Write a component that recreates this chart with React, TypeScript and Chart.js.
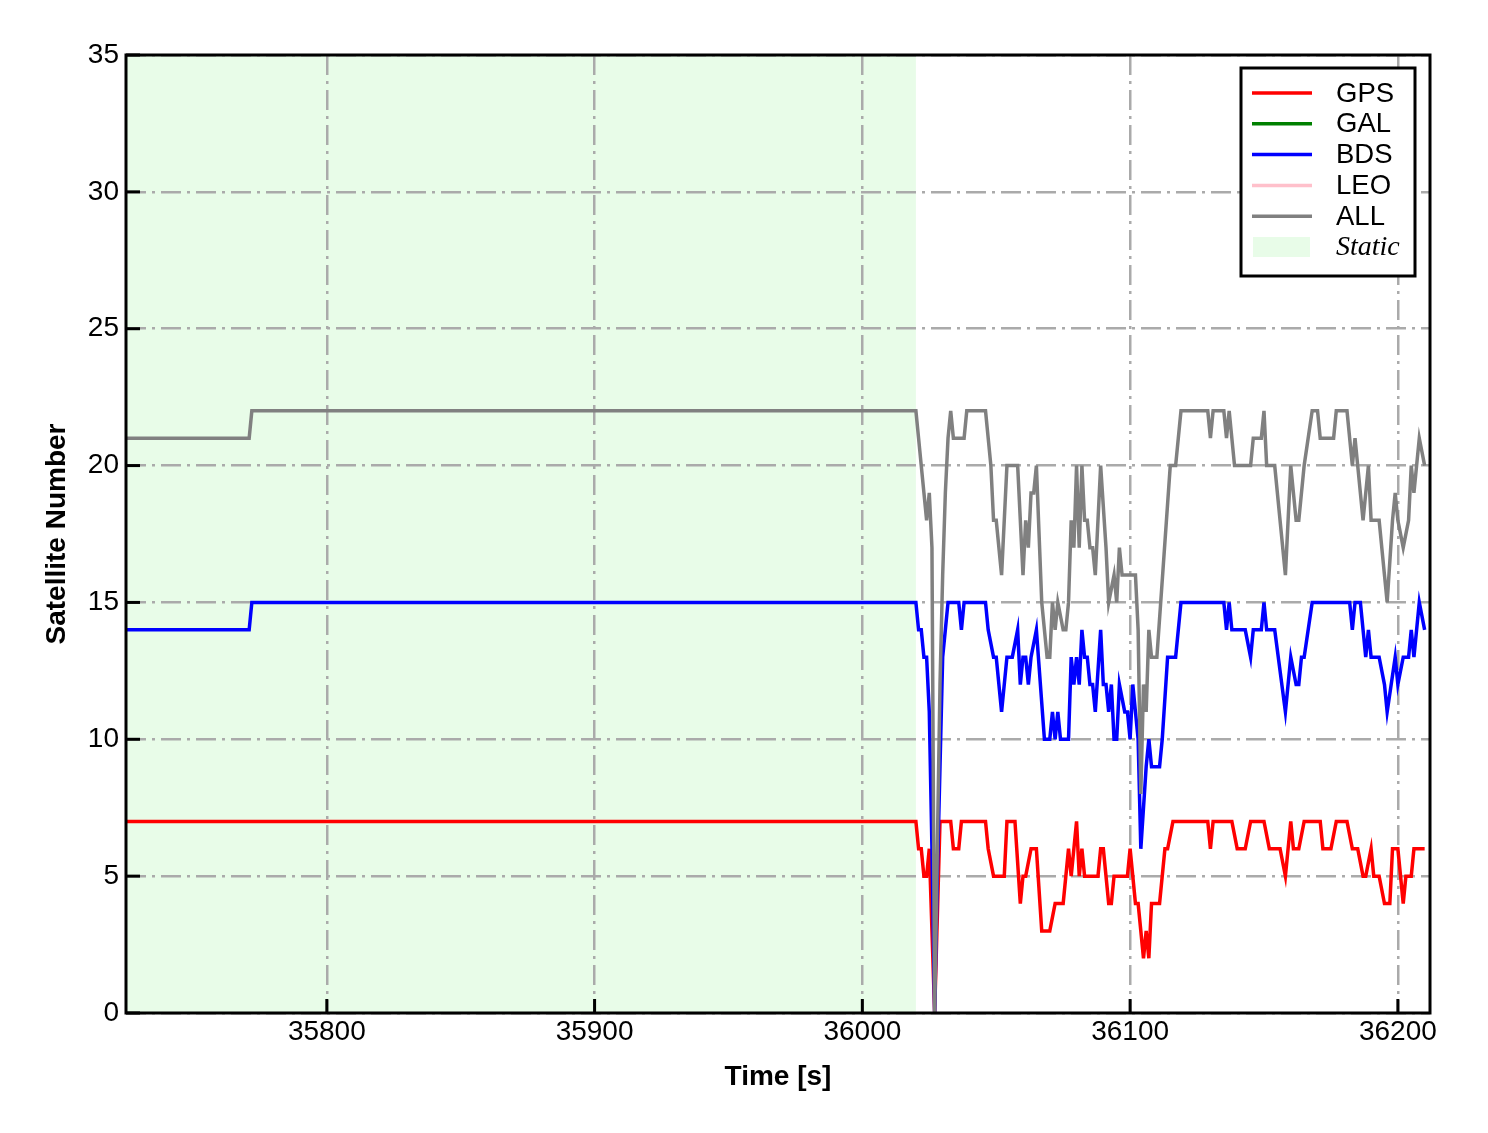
import React, { useEffect, useRef } from "react";
import { Chart, registerables } from "chart.js";

Chart.register(...registerables);

// ---------------- data ----------------
const X_MIN = 35725;
const X_MAX = 36212;
const Y_MIN = 0;
const Y_MAX = 35;
const STATIC_START = 35725;
const STATIC_END = 36020;

const gpsTimes = [35725, 36020, 36021, 36022, 36023, 36024, 36025, 36027, 36029, 36033, 36034, 36036, 36037, 36046, 36047, 36049, 36053, 36054, 36057, 36059, 36060, 36061, 36063, 36065, 36067, 36070, 36072, 36075, 36077, 36078, 36080, 36081, 36082, 36083, 36088, 36089, 36090, 36092, 36093, 36094, 36099, 36100, 36102, 36103, 36105, 36106, 36107, 36108, 36111, 36113, 36114, 36116, 36129, 36130, 36131, 36138, 36140, 36143, 36145, 36150, 36152, 36156, 36158, 36160, 36161, 36163, 36165, 36171, 36172, 36175, 36177, 36181, 36183, 36185, 36187, 36188, 36190, 36191, 36193, 36195, 36197, 36198, 36200, 36202, 36203, 36205, 36206, 36210];
const gpsValues = [7, 7, 6, 6, 5, 5, 6, 0, 7, 7, 6, 6, 7, 7, 6, 5, 5, 7, 7, 4, 5, 5, 6, 6, 3, 3, 4, 4, 6, 5, 7, 5, 6, 5, 5, 6, 6, 4, 4, 5, 5, 6, 4, 4, 2, 3, 2, 4, 4, 6, 6, 7, 7, 6, 7, 7, 6, 6, 7, 7, 6, 6, 5, 7, 6, 6, 7, 7, 6, 6, 7, 7, 6, 6, 5, 5, 6, 5, 5, 4, 4, 6, 6, 4, 5, 5, 6, 6];

const galTimes: number[] = [];
const galValues: number[] = [];

const bdsTimes = [35725, 35771, 35772, 36020, 36021, 36022, 36023, 36024, 36025, 36026, 36027, 36028, 36029, 36030, 36031, 36032, 36036, 36037, 36038, 36046, 36047, 36049, 36050, 36052, 36054, 36056, 36058, 36059, 36060, 36061, 36062, 36063, 36065, 36068, 36070, 36071, 36072, 36073, 36074, 36077, 36078, 36079, 36080, 36081, 36082, 36083, 36084, 36085, 36086, 36087, 36089, 36090, 36091, 36092, 36093, 36094, 36095, 36096, 36098, 36099, 36100, 36101, 36102, 36103, 36104, 36106, 36107, 36108, 36111, 36112, 36114, 36117, 36119, 36135, 36136, 36137, 36138, 36143, 36145, 36146, 36149, 36150, 36151, 36154, 36158, 36160, 36162, 36163, 36164, 36165, 36168, 36182, 36183, 36184, 36186, 36188, 36189, 36190, 36193, 36195, 36196, 36199, 36200, 36202, 36204, 36205, 36206, 36208, 36210];
const bdsValues = [14, 14, 15, 15, 14, 14, 13, 13, 11, 6, 0, 5, 9, 13, 14, 15, 15, 14, 15, 15, 14, 13, 13, 11, 13, 13, 14, 12, 13, 13, 12, 13, 14, 10, 10, 11, 10, 11, 10, 10, 13, 12, 13, 12, 14, 13, 13, 12, 12, 11, 14, 12, 12, 11, 12, 10, 10, 12, 11, 11, 10, 12, 11, 10, 6, 9, 10, 9, 9, 10, 13, 13, 15, 15, 14, 15, 14, 14, 13, 14, 14, 15, 14, 14, 11, 13, 12, 12, 13, 13, 15, 15, 14, 15, 15, 13, 14, 13, 13, 12, 11, 13, 12, 13, 13, 14, 13, 15, 14];

const leoTimes: number[] = [];
const leoValues: number[] = [];

const allTimes = [35725, 35771, 35772, 36020, 36021, 36022, 36023, 36024, 36025, 36026, 36027, 36028, 36029, 36030, 36031, 36032, 36033, 36034, 36038, 36039, 36046, 36047, 36048, 36049, 36050, 36052, 36054, 36058, 36060, 36061, 36062, 36063, 36064, 36065, 36067, 36069, 36070, 36071, 36072, 36073, 36075, 36076, 36077, 36078, 36079, 36080, 36081, 36082, 36083, 36084, 36085, 36086, 36087, 36089, 36091, 36092, 36094, 36095, 36096, 36097, 36102, 36103, 36104, 36105, 36106, 36107, 36108, 36110, 36115, 36117, 36119, 36129, 36130, 36131, 36135, 36136, 36137, 36139, 36145, 36146, 36149, 36150, 36151, 36154, 36158, 36160, 36162, 36163, 36165, 36168, 36170, 36171, 36176, 36177, 36181, 36183, 36184, 36185, 36187, 36189, 36190, 36193, 36195, 36196, 36198, 36199, 36200, 36202, 36204, 36205, 36206, 36208, 36210];
const allValues = [21, 21, 22, 22, 21, 20, 19, 18, 19, 17, 0, 6, 12, 16, 19, 21, 22, 21, 21, 22, 22, 21, 20, 18, 18, 16, 20, 20, 16, 18, 17, 19, 19, 20, 15, 13, 13, 15, 14, 15, 14, 14, 15, 18, 17, 20, 17, 20, 18, 18, 17, 17, 16, 20, 17, 15, 16, 15, 17, 16, 16, 14, 8, 12, 11, 14, 13, 13, 20, 20, 22, 22, 21, 22, 22, 21, 22, 20, 20, 21, 21, 22, 20, 20, 16, 20, 18, 18, 20, 22, 22, 21, 21, 22, 22, 20, 21, 20, 18, 20, 18, 18, 16, 15, 18, 19, 18, 17, 18, 20, 19, 21, 20];

const xTickStep = 100;
const yTickStep = 5;

const seriesLabels = ["GPS", "GAL", "BDS", "LEO", "ALL"];
const seriesColors = ["#ff0000", "#008000", "#0000ff", "#ffc0cb", "#808080"];
const staticLabel = "Static";
const staticColor = "rgb(232, 252, 232)";

const toPoints = (t: number[], v: number[]) => t.map((x, i) => ({ x, y: v[i] }));

const FONT_SANS = "'Liberation Sans', Arial, Helvetica, sans-serif";
const FONT_SERIF = "'Liberation Serif', 'Times New Roman', serif";

const staticPlugin = {
  id: "staticShade",
  beforeDraw(chart: any) {
    const { ctx, chartArea, scales } = chart;
    const x0 = Math.max(scales.x.getPixelForValue(STATIC_START), chartArea.left);
    const x1 = Math.min(scales.x.getPixelForValue(STATIC_END), chartArea.right);
    ctx.save();
    ctx.fillStyle = staticColor;
    ctx.fillRect(x0, chartArea.top, x1 - x0, chartArea.bottom - chartArea.top);
    ctx.restore();
  },
};

const framePlugin = {
  id: "frameAndLegend",
  afterDraw(chart: any) {
    const { ctx, chartArea, scales } = chart;
    const { left, right, top, bottom } = chartArea;
    ctx.save();
    // inward ticks
    ctx.strokeStyle = "#000";
    ctx.lineWidth = 3;
    const tl = 14;
    scales.y.ticks.forEach((t: any) => {
      const y = scales.y.getPixelForValue(t.value);
      ctx.beginPath();
      ctx.moveTo(left, y);
      ctx.lineTo(left + tl, y);
      ctx.stroke();
    });
    scales.x.ticks.forEach((t: any) => {
      const x = scales.x.getPixelForValue(t.value);
      ctx.beginPath();
      ctx.moveTo(x, bottom);
      ctx.lineTo(x, bottom - tl);
      ctx.stroke();
    });
    // frame
    ctx.lineWidth = 3;
    ctx.strokeRect(left, top, right - left, bottom - top);

    // legend
    const bx = right - 189;
    const by = top + 13;
    const bw = 174;
    const bh = 208;
    ctx.fillStyle = "#fff";
    ctx.fillRect(bx, by, bw, bh);
    ctx.lineWidth = 3;
    ctx.strokeStyle = "#000";
    ctx.strokeRect(bx, by, bw, bh);
    const rowH = 30.8;
    const y0 = by + 25;
    ctx.textBaseline = "middle";
    ctx.textAlign = "left";
    chart.data.datasets.forEach((ds: any, i: number) => {
      const y = y0 + i * rowH;
      ctx.strokeStyle = ds.borderColor;
      ctx.lineWidth = 3.5;
      ctx.beginPath();
      ctx.moveTo(bx + 11, y);
      ctx.lineTo(bx + 71, y);
      ctx.stroke();
      ctx.fillStyle = "#000";
      ctx.font = `27.5px ${FONT_SANS}`;
      ctx.fillText(ds.label, bx + 95, y + 1);
    });
    const ys = y0 + chart.data.datasets.length * rowH;
    ctx.fillStyle = staticColor;
    ctx.fillRect(bx + 12, ys - 10, 57, 20);
    ctx.fillStyle = "#000";
    ctx.font = `italic 28px ${FONT_SERIF}`;
    ctx.fillText(staticLabel, bx + 95, ys + 1);
    ctx.restore();
  },
};

export default function App() {
  const ref = useRef<HTMLCanvasElement | null>(null);

  useEffect(() => {
    if (!ref.current) return;
    const seriesData = [
      toPoints(gpsTimes, gpsValues),
      toPoints(galTimes, galValues),
      toPoints(bdsTimes, bdsValues),
      toPoints(leoTimes, leoValues),
      toPoints(allTimes, allValues),
    ];
    const gridDash = [20, 6, 3, 6];
    const chart = new Chart(ref.current, {
      type: "line",
      data: {
        datasets: seriesLabels.map((label, i) => ({
          label,
          data: seriesData[i],
          borderColor: seriesColors[i],
          backgroundColor: seriesColors[i],
          borderWidth: 3.5,
          pointRadius: 0,
          tension: 0,
          fill: false,
          order: seriesLabels.length - i,
        })),
      },
      options: {
        animation: false,
        responsive: false,
        maintainAspectRatio: false,
        devicePixelRatio: 1,
        parsing: true,
        layout: { padding: { left: 0, right: 58, top: 55, bottom: 0 } },
        plugins: { legend: { display: false }, tooltip: { enabled: false } },
        scales: {
          x: {
            type: "linear",
            min: X_MIN,
            max: X_MAX,
            afterFit: (s: any) => {
              s.height = 120;
            },
            grid: { color: "#aaaaaa", lineWidth: 2.5, drawTicks: false },
            border: { display: false, dash: gridDash },
            ticks: {
              stepSize: xTickStep,
              includeBounds: false,
              color: "#000",
              padding: 2,
              maxRotation: 0,
              autoSkip: false,
              font: { size: 28, family: FONT_SANS },
              callback: (v: any) => String(v),
            },
            title: {
              display: true,
              text: "Time [s]",
              color: "#000",
              font: { size: 28, weight: "bold", family: FONT_SANS },
              padding: { top: 39, bottom: 39 },
            },
          },
          y: {
            type: "linear",
            min: Y_MIN,
            max: Y_MAX,
            afterFit: (s: any) => {
              s.width = 126;
            },
            grid: { color: "#aaaaaa", lineWidth: 2.5, drawTicks: false },
            border: { display: false, dash: gridDash },
            ticks: {
              stepSize: yTickStep,
              color: "#000",
              padding: 7,
              font: { size: 28, family: FONT_SANS },
              callback: (v: any) => String(v),
            },
            title: {
              display: true,
              text: "Satellite Number",
              color: "#000",
              font: { size: 28, weight: "bold", family: FONT_SANS },
              padding: { top: 40, bottom: 40 },
            },
          },
        },
      } as any,
      plugins: [staticPlugin, framePlugin],
    });
    return () => chart.destroy();
  }, []);

  return (
    <div style={{ position: "absolute", left: 0, top: 0, width: 1488, height: 1133, background: "#fff" }}>
      <canvas ref={ref} width={1488} height={1133} style={{ display: "block", width: 1488, height: 1133 }} />
    </div>
  );
}
